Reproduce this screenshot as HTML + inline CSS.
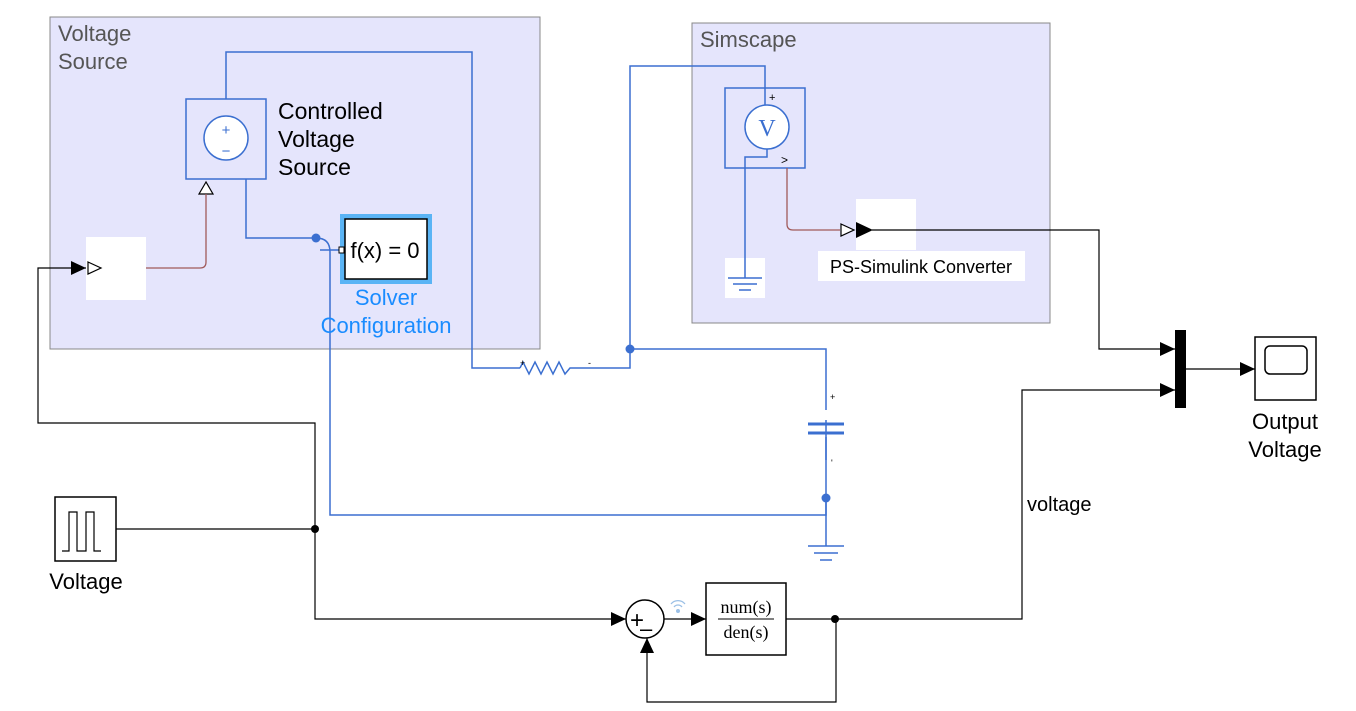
<!DOCTYPE html>
<html><head><meta charset="utf-8"><style>body{margin:0;background:#fff}svg{display:block}.s{font-family:"Liberation Sans",sans-serif}.r{font-family:"Liberation Serif",serif}</style></head><body>
<svg width="1356" height="711" viewBox="0 0 1356 711">
<defs>
<marker id="a" markerWidth="16" markerHeight="14" refX="15" refY="7" orient="auto" markerUnits="userSpaceOnUse"><path d="M0,0 L15,7 L0,14z" fill="#000"/></marker>
</defs>
<rect x="50" y="17" width="490" height="332" fill="#e5e5fc" stroke="#888"/>
<rect x="692" y="23" width="358" height="300" fill="#e5e5fc" stroke="#888"/>
<g class="s">
<text x="58" y="41" font-size="22" fill="#555">Voltage</text>
<text x="58" y="69" font-size="22" fill="#555">Source</text>
<text x="700" y="47" font-size="22" fill="#555">Simscape</text>
</g>
<g fill="none" stroke="#3b6fd0" stroke-width="1.5">
<path d="M226,99 V52 H472 V368 H520"/>
<path d="M246,179 V238 H316"/>
<path d="M316,238 Q330,238 330,252 V515 H826 V420"/>
<path d="M320,250 H343"/>
<path d="M590,368 H630 V66 H765 V105"/>
<path d="M630,349 H826 V410"/>
<path d="M826,437 V460 M826,498 V546"/>
<path d="M767,149 V157 H745 V278"/>
<path d="M520,368 l3,-6 l6,12 l6,-12 l6,12 l6,-12 l6,12 l6,-12 l6,12 l5,-6 H590"/>
<path d="M808,424 H844 M808,433 H844" stroke-width="3"/>
<path d="M808,546 H844 M814,553 H838 M820,560 H832"/>
</g>
<circle cx="316" cy="238" r="4.5" fill="#3b6fd0"/>
<circle cx="630" cy="349" r="4.5" fill="#3b6fd0"/>
<circle cx="826" cy="498" r="4.5" fill="#3b6fd0"/>
<rect x="186" y="99" width="80" height="80" fill="none" stroke="#3b6fd0" stroke-width="1.5"/>
<circle cx="226" cy="138" r="22" fill="#fff" stroke="#3b6fd0" stroke-width="1.5"/>
<g class="s">
<text x="226" y="135" font-size="15" fill="#3b6fd0" text-anchor="middle">+</text>
<text x="226" y="156" font-size="15" fill="#3b6fd0" text-anchor="middle">−</text>
<text x="278" y="119" font-size="23">Controlled</text>
<text x="278" y="147" font-size="23">Voltage</text>
<text x="278" y="175" font-size="23">Source</text>
</g>
<path d="M206,182 L199,194 L213,194z" fill="#fff" stroke="#000" stroke-width="1.2"/>
<path d="M96,268 H200 Q206,268 206,262 V194" fill="none" stroke="#a05a5a" stroke-width="1.3"/>
<rect x="86" y="237" width="60" height="63" fill="#fff"/>
<path d="M88,262 L101,268 L88,274z" fill="#fff" stroke="#000" stroke-width="1.2"/>
<rect x="340" y="214" width="92" height="70" fill="#5ab4f5"/>
<rect x="345" y="219" width="82" height="60" fill="#fff" stroke="#000" stroke-width="1.5"/>
<rect x="339" y="247" width="5" height="6" fill="#fff" stroke="#000"/>
<g class="s">
<text x="385" y="258" font-size="22" text-anchor="middle">f(x) = 0</text>
<text x="386" y="305" font-size="22" fill="#1a8cff" text-anchor="middle">Solver</text>
<text x="386" y="333" font-size="22" fill="#1a8cff" text-anchor="middle">Configuration</text>
</g>
<rect x="725" y="88" width="80" height="80" fill="none" stroke="#3b6fd0" stroke-width="1.5"/>
<circle cx="767" cy="127" r="22" fill="#fff" stroke="#3b6fd0" stroke-width="1.5"/>
<text x="767" y="136" font-size="24" fill="#3b6fd0" text-anchor="middle" class="r">V</text>
<g class="s">
<text x="769" y="101" font-size="11">+</text>
<text x="781" y="164" font-size="12">&gt;</text>
<text x="520" y="366" font-size="9">+</text><text x="588" y="366" font-size="9">-</text>
<text x="830" y="400" font-size="9">+</text><text x="831" y="466" font-size="9">'</text>
</g>
<rect x="725" y="258" width="40" height="40" fill="#fff"/>
<path d="M728,278 H762 M733,284 H757 M739,290 H751 M745,258 V278" stroke="#3b6fd0" stroke-width="1.5"/>
<path d="M787,168 V224 Q787,230 793,230 H840" fill="none" stroke="#a05a5a" stroke-width="1.3"/>
<rect x="856" y="199" width="60" height="51" fill="#fff"/>
<rect x="818" y="251" width="207" height="30" fill="#fff"/>
<text x="921" y="273" font-size="18" text-anchor="middle" class="s">PS-Simulink Converter</text>
<path d="M841,224 L854,230 L841,236z" fill="#fff" stroke="#000" stroke-width="1.2"/>
<path d="M856,222 L873,230 L856,238z" fill="#000"/>
<g fill="none" stroke="#000" stroke-width="1.2">
<path d="M872,230 H1099 V349 H1175" marker-end="url(#a)"/>
<path d="M836,619 H1022 V390 H1175" marker-end="url(#a)"/>
<path d="M1186,369 H1255" marker-end="url(#a)"/>
<path d="M116,529 H315 V619 H626" marker-end="url(#a)"/>
<path d="M315,529 V423 H38 V268 H86" marker-end="url(#a)"/>
<path d="M664,619 H706" marker-end="url(#a)"/>
<path d="M786,619 H836 V702 H647 V638" marker-end="url(#a)"/>
</g>
<circle cx="315" cy="529" r="4" fill="#000"/>
<circle cx="835" cy="619" r="4" fill="#000"/>
<rect x="1175" y="330" width="11" height="78" fill="#000"/>
<rect x="1255" y="337" width="61" height="63" fill="#fff" stroke="#000" stroke-width="1.5"/>
<rect x="1265" y="346" width="42" height="28" rx="5" fill="#fff" stroke="#000" stroke-width="1.5"/>
<g class="s">
<text x="1285" y="429" font-size="22" text-anchor="middle">Output</text>
<text x="1285" y="457" font-size="22" text-anchor="middle">Voltage</text>
<text x="1027" y="511" font-size="20">voltage</text>
</g>
<rect x="55" y="497" width="61" height="64" fill="#fff" stroke="#000" stroke-width="1.5"/>
<path d="M62,551 H69 V512 H77 V551 H86 V512 H94 V551 H101" fill="none" stroke="#000" stroke-width="1.2"/>
<text x="86" y="589" font-size="22" text-anchor="middle" class="s">Voltage</text>
<circle cx="645" cy="619" r="19" fill="#fff" stroke="#000" stroke-width="1.5"/>
<text x="630" y="628" font-size="24" class="s">+</text>
<text x="640" y="636" font-size="22" class="s">–</text>
<path d="M671,604 a9,9 0 0 1 14,0 M674,607 a5,5 0 0 1 8,0" fill="none" stroke="#9bc0e6" stroke-width="1.3"/>
<circle cx="678" cy="611" r="2" fill="#9bc0e6"/>
<rect x="706" y="583" width="80" height="72" fill="#fff" stroke="#000" stroke-width="1.5"/>
<text x="746" y="613" font-size="18" text-anchor="middle" class="r">num(s)</text>
<path d="M718,619 H774" stroke="#000"/>
<text x="746" y="638" font-size="18" text-anchor="middle" class="r">den(s)</text>
</svg>
</body></html>
